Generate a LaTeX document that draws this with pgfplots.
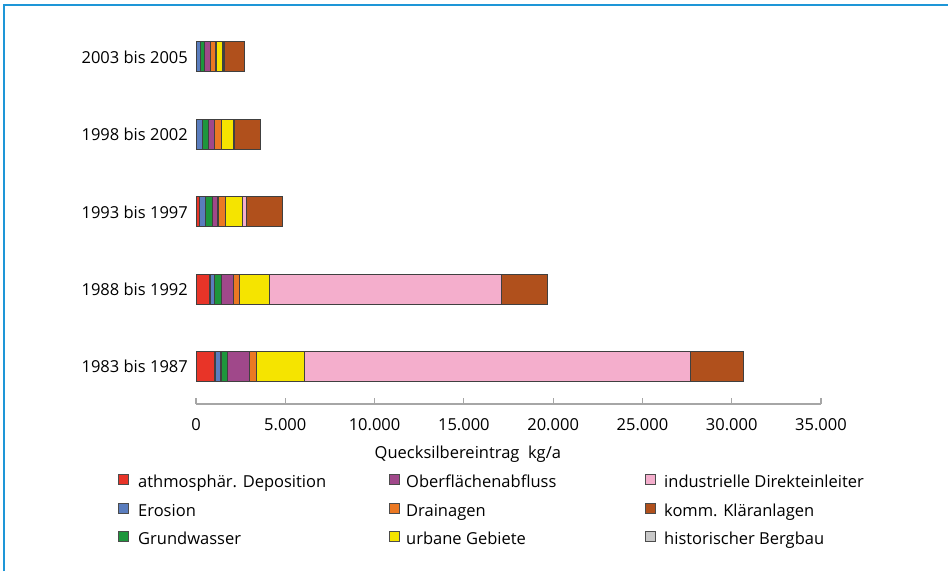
\documentclass[border=0pt]{standalone}
\usepackage{pgfplots}
\usepackage{pgfplotstable}
\usepackage{fontspec}
\setmainfont{Open Sans}
\pgfplotsset{compat=1.18}
\definecolor{cRed}{RGB}{232,52,40}
\definecolor{cBlue}{RGB}{90,125,190}
\definecolor{cGreen}{RGB}{30,150,60}
\definecolor{cPurple}{RGB}{160,72,138}
\definecolor{cOrange}{RGB}{235,120,35}
\definecolor{cYellow}{RGB}{245,228,0}
\definecolor{cPink}{RGB}{244,174,204}
\definecolor{cBrown}{RGB}{176,80,28}
\definecolor{cGrey}{RGB}{200,200,200}
\definecolor{cFrame}{RGB}{30,150,215}
\newcommand{\fs}{\fontsize{16.5}{19}\selectfont}
\pgfplotstableread{
y atm ero gru obe dra urb ind kom
0 1066 336 337 1234 392 2692 21649 2956
1 785 264 370 673 336 1666 13012 2563
2 207 315 392 320 393 970 207 2047
3 40 325 310 365 390 645 55 1485
4 39 202 225 336 320 392 96 1121
}\datatable
\begin{document}
\begin{tikzpicture}[x=1pt,y=1pt]
\useasboundingbox (0,0) rectangle (948,571);
\draw[cFrame, line width=2pt] (3.5,0) -- (3.5,565.5) -- (948,565.5);
\begin{axis}[
  at={(196pt,167pt)}, anchor=south west,
  scale only axis, width=625pt, height=374.3pt,
  xbar stacked, bar width=30pt,
  xmin=0, xmax=35000, ymin=-0.48, ymax=4.35,
  axis x line*=bottom, axis y line*=left,
  x axis line style={draw=black!35, line width=1.2pt},
  y axis line style={draw=none},
  xtick={0,5000,...,35000}, scaled x ticks=false,
  xtick style={draw=black!35, line width=1.2pt},
  tick align=inside, major tick length=6pt,
  ytick={0,1,2,3,4}, ytick style={draw=none},
  yticklabels={1983 bis 1987,1988 bis 1992,1993 bis 1997,1998 bis 2002,2003 bis 2005},
  /pgf/number format/1000 sep={.},
  /pgf/number format/assume math mode=true,
  tick label style={font=\fs},
  xticklabel style={anchor=north, inner sep=0pt, yshift=-14pt},
  yticklabel style={anchor=east, inner sep=0pt, xshift=-8pt},
  xlabel={Quecksilbereintrag\ \ kg/a},
  xlabel style={font=\fs, at={(axis description cs:0.435,0)}, anchor=center, yshift=-50pt},
  every axis plot/.append style={draw=black!75, line width=1.1pt},
  legend image code/.code={\draw[#1, draw=black!70, line width=1pt] (0pt,-2.5pt) rectangle (10pt,7.5pt);},
  transpose legend, legend columns=3,
  legend cell align=left,
  legend style={draw=none, fill=none, font=\fs, inner sep=0pt, row sep=13.5pt, column sep=0pt,
    nodes={inner sep=0pt}, at={(axis description cs:-0.1248,-0.187)}, anchor=north west},
]
\addplot[fill=cRed] table[x=atm,y=y]{\datatable};
\addplot[fill=cBlue] table[x=ero,y=y]{\datatable};
\addplot[fill=cGreen] table[x=gru,y=y]{\datatable};
\addplot[fill=cPurple] table[x=obe,y=y]{\datatable};
\addplot[fill=cOrange] table[x=dra,y=y]{\datatable};
\addplot[fill=cYellow] table[x=urb,y=y]{\datatable};
\addplot[fill=cPink] table[x=ind,y=y]{\datatable};
\addplot[fill=cBrown] table[x=kom,y=y]{\datatable};
\addlegendimage{fill=cGrey}
\legend{
\makebox[260pt][l]{\rule[-4pt]{0pt}{16pt}\hspace{9pt}athmosphär. Deposition},
\makebox[260pt][l]{\rule[-4pt]{0pt}{16pt}\hspace{9pt}Erosion},
\makebox[260pt][l]{\rule[-4pt]{0pt}{16pt}\hspace{9pt}Grundwasser},
\makebox[245pt][l]{\rule[-4pt]{0pt}{16pt}\hspace{6pt}Oberflächenabfluss},
\makebox[245pt][l]{\rule[-4pt]{0pt}{16pt}\hspace{6pt}Drainagen},
\makebox[245pt][l]{\rule[-4pt]{0pt}{16pt}\hspace{6pt}urbane Gebiete},
\makebox[230pt][l]{\rule[-4pt]{0pt}{16pt}\hspace{8pt}industrielle Direkteinleiter},
\makebox[230pt][l]{\rule[-4pt]{0pt}{16pt}\hspace{8pt}komm. Kläranlagen},
\makebox[230pt][l]{\rule[-4pt]{0pt}{16pt}\hspace{8pt}historischer Bergbau}}
\end{axis}
\end{tikzpicture}
\end{document}
